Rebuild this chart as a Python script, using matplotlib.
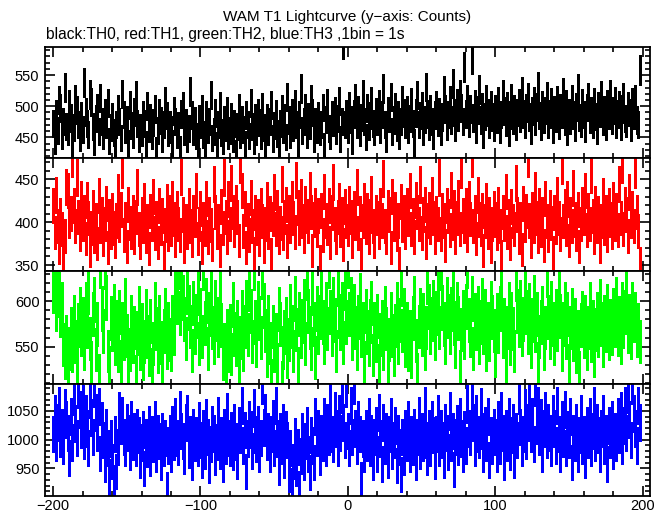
import matplotlib
matplotlib.use('Agg')
import matplotlib.pyplot as plt
import numpy as np
from matplotlib.ticker import MultipleLocator

plt.rcParams['font.family'] = ['Liberation Sans', 'DejaVu Sans']

# 1 s bins, roughly -200 .. 198 s
time_s = np.arange(-200, 199)

th0 = [472, 445, 488, 461, 510, 497, 452, 476, 530, 468, 459, 503, 481, 437, 466, 512, 494, 470, 449, 485,
       463, 538, 491, 472, 455, 519, 507, 468, 443, 480, 498, 460, 513, 476, 452, 489, 471, 505, 444, 466,
       483, 458, 431, 470, 496, 475, 449, 520, 487, 462, 478, 441, 502, 469, 455, 491, 517, 473, 448, 466,
       458, 487, 472, 439, 501, 465, 482, 452, 474, 496, 430, 461, 489, 477, 447, 470, 508, 485, 458, 471,
       463, 441, 492, 476, 455, 469, 432, 488, 501, 459, 474, 447, 465, 524, 486, 460, 477, 452, 439, 480,
       470, 495, 455, 442, 486, 463, 476, 518, 449, 460, 489, 437, 471, 501, 458, 444, 478, 466, 493, 452,
       461, 483, 448, 472, 426, 467, 497, 455, 479, 463, 440, 486, 471, 452, 505, 468, 445, 481, 460, 490,
       474, 453, 499, 466, 437, 482, 459, 475, 502, 448, 469, 488, 456, 429, 472, 495, 463, 481, 451, 515,
       478, 455, 490, 466, 503, 471, 442, 487, 529, 461, 476, 498, 454, 483, 469, 512, 490, 447, 475, 463,
       485, 459, 471, 498, 436, 479, 505, 465, 452, 487, 474, 493, 461, 480, 509, 447, 476, 600, 470, 488,
       462, 501, 479, 445, 488, 513, 470, 494, 458, 482, 520, 476, 451, 497, 467, 485, 508, 472, 459, 491,
       476, 504, 463, 487, 529, 470, 448, 493, 481, 515, 460, 478, 499, 466, 487, 452, 476, 510, 489, 471,
       494, 463, 480, 507, 473, 442, 489, 518, 471, 485, 500, 460, 479, 531, 488, 467, 495, 476, 453, 486,
       502, 474, 491, 459, 483, 526, 495, 468, 487, 510, 478, 536, 490, 466, 505, 482, 520, 497, 475, 563,
       488, 512, 473, 496, 575, 481, 503, 462, 494, 527, 478, 499, 455, 484, 511, 490, 470, 502, 483, 466,
       495, 479, 508, 463, 487, 519, 492, 474, 501, 457, 486, 513, 478, 496, 467, 490, 505, 481, 524, 488,
       470, 497, 514, 483, 461, 492, 508, 476, 499, 532, 485, 468, 502, 479, 493, 516, 471, 488, 506, 463,
       494, 481, 510, 469, 497, 487, 522, 475, 503, 459, 490, 478, 512, 486, 466, 499, 528, 482, 473, 505,
       487, 465, 498, 515, 479, 492, 470, 506, 484, 461, 500, 489, 517, 475, 494, 468, 503, 486, 520, 477,
       493, 509, 471, 488, 502, 467, 496, 514, 480, 473, 501, 490, 466, 507, 485, 512, 478, 470, 558]

th1 = [420, 388, 432, 395, 371, 408, 392, 356, 384, 441, 437, 402, 410, 474, 419, 395, 452, 406, 386, 428,
       398, 412, 381, 426, 405, 367, 393, 417, 384, 402, 375, 431, 396, 409, 380, 398, 422, 371, 407, 389,
       414, 393, 378, 402, 436, 397, 415, 462, 385, 404, 372, 421, 399, 388, 411, 382, 406, 441, 392, 377,
       409, 396, 425, 384, 401, 369, 413, 398, 430, 387, 405, 376, 419, 393, 408, 359, 397, 424, 386, 411,
       392, 427, 404, 379, 416, 398, 385, 453, 409, 372, 401, 388, 420, 395, 379, 412, 403, 437, 381, 398,
       416, 371, 404, 392, 428, 383, 409, 397, 374, 445, 412, 389, 401, 367, 418, 393, 452, 406, 383, 427,
       398, 446, 412, 391, 423, 406, 379, 468, 437, 390, 416, 371, 402, 385, 429, 396, 364, 411, 393, 407,
       380, 419, 401, 372, 398, 426, 388, 410, 363, 404, 435, 392, 417, 383, 399, 445, 387, 406, 421, 378,
       412, 396, 428, 405, 389, 449, 417, 393, 430, 401, 384, 422, 407, 395, 438, 412, 367, 403, 420, 391,
       408, 354, 414, 385, 436, 402, 393, 419, 376, 411, 447, 398, 382, 406, 425, 391, 409, 374, 418, 401,
       392, 422, 406, 378, 416, 399, 441, 387, 410, 363, 401, 425, 394, 414, 382, 407, 433, 395, 378, 412,
       405, 389, 420, 402, 451, 396, 383, 417, 409, 371, 430, 398, 415, 386, 402, 352, 424, 397, 411, 388,
       419, 404, 437, 392, 408, 383, 426, 412, 398, 444, 387, 409, 421, 376, 402, 415, 394, 432, 405, 382,
       410, 398, 452, 386, 414, 402, 373, 420, 407, 391, 438, 399, 417, 383, 405, 429, 392, 461, 408, 396,
       419, 385, 427, 404, 475, 396, 412, 381, 432, 403, 392, 414, 367, 401, 425, 388, 409, 372, 398, 416,
       403, 387, 421, 395, 360, 412, 398, 436, 389, 407, 375, 418, 401, 392, 446, 409, 383, 404, 368, 422,
       397, 413, 475, 402, 378, 415, 396, 438, 405, 384, 420, 391, 409, 373, 428, 401, 385, 417, 399, 365,
       411, 394, 432, 405, 386, 466, 401, 418, 392, 427, 379, 409, 396, 440, 403, 386, 415, 372, 398, 421,
       405, 437, 391, 414, 398, 456, 407, 383, 422, 396, 410, 372, 401, 431, 393, 412, 385, 419, 403, 388,
       426, 398, 414, 391, 445, 405, 467, 392, 421, 409, 384, 435, 401, 416, 396, 462, 412, 390, 352]

th2 = [612, 640, 591, 623, 607, 585, 597, 552, 538, 561, 521, 548, 570, 545, 583, 556, 529, 574, 591, 563,
       580, 548, 597, 572, 611, 559, 533, 586, 602, 547, 575, 519, 640, 592, 567, 638, 604, 545, 528, 581,
       569, 594, 553, 577, 546, 588, 534, 575, 559, 601, 562, 529, 547, 583, 556, 571, 518, 565, 592, 548,
       574, 537, 556, 589, 561, 541, 578, 526, 553, 597, 570, 544, 582, 555, 531, 567, 590, 549, 575, 558,
       547, 583, 565, 612, 599, 638, 587, 621, 604, 580, 559, 611, 593, 572, 546, 598, 566, 584, 609, 553,
       590, 561, 637, 576, 601, 548, 586, 616, 571, 555, 599, 580, 562, 611, 574, 536, 552, 527, 568, 545,
       573, 542, 596, 564, 552, 577, 529, 560, 588, 547, 572, 599, 563, 614, 589, 556, 637, 577, 551, 598,
       581, 560, 627, 595, 568, 540, 583, 554, 514, 572, 546, 563, 531, 591, 575, 512, 549, 566, 580, 539,
       558, 594, 572, 545, 603, 569, 527, 586, 561, 578, 600, 553, 626, 589, 571, 548, 609, 575, 538, 592,
       566, 583, 611, 577, 554, 596, 570, 640, 588, 563, 602, 579, 545, 619, 584, 570, 596, 555, 615, 577,
       640, 586, 602, 559, 594, 571, 548, 583, 606, 562, 575, 533, 589, 566, 552, 578, 598, 541, 575, 557,
       584, 530, 563, 577, 548, 592, 570, 524, 558, 586, 562, 541, 573, 597, 555, 579, 620, 568, 590, 551,
       575, 547, 566, 539, 581, 603, 557, 520, 572, 590, 563, 585, 548, 571, 622, 594, 566, 580, 599, 559,
       587, 608, 571, 637, 593, 575, 555, 602, 584, 566, 591, 613, 576, 550, 597, 581, 523, 569, 588, 560,
       594, 640, 579, 562, 603, 548, 585, 570, 592, 554, 577, 601, 566, 589, 547, 575, 558, 598, 582, 568,
       540, 585, 567, 592, 610, 561, 579, 533, 571, 597, 553, 586, 570, 545, 625, 589, 574, 599, 563, 580,
       616, 588, 566, 595, 550, 579, 604, 568, 586, 532, 561, 577, 592, 548, 571, 630, 583, 560, 598, 575,
       553, 589, 569, 612, 584, 547, 575, 596, 560, 586, 530, 571, 590, 558, 579, 544, 566, 522, 574, 587,
       561, 583, 548, 571, 596, 557, 577, 540, 569, 586, 562, 600, 575, 551, 583, 568, 594, 559, 578, 565,
       590, 574, 602, 563, 581, 555, 597, 572, 588, 608, 567, 584, 560, 596, 579, 586, 562, 574, 556]

th3 = [1010, 1045, 995, 1030, 1060, 1002, 1022, 990, 1055, 1035, 1012, 968, 1040, 995, 1075, 1028, 1003, 1088, 1052, 1017,
       1062, 998, 1045, 1020, 985, 1071, 1038, 1005, 1090, 1047, 1012, 1058, 976, 1034, 999, 958, 1022, 985, 935, 1002,
       962, 925, 1010, 945, 988, 1050, 1024, 1042, 1005, 985, 1030, 1012, 978, 1036, 997, 1015, 985, 1022, 1008, 965,
       995, 1018, 950, 1004, 983, 1027, 968, 1009, 992, 1035, 975, 1011, 998, 960, 1015, 985, 1003, 914, 990, 1012,
       975, 1027, 996, 1040, 1003, 988, 1052, 1015, 998, 972, 1030, 1045, 982, 1010, 960, 1022, 995, 1008, 985, 1033,
       1000, 964, 1019, 980, 1038, 1005, 955, 992, 1026, 1011, 970, 996, 1042, 981, 1007, 957, 1021, 989, 1049, 1003,
       985, 1016, 978, 1030, 997, 962, 1025, 1008, 1060, 990, 1017, 945, 1002, 1035, 1018, 980, 1055, 1009, 992, 1026,
       975, 1003, 1095, 1021, 1048, 996, 1015, 975, 1010, 1037, 985, 1060, 1002, 952, 1015, 990, 1030, 965, 1018, 1000,
       940, 985, 920, 962, 1006, 950, 988, 915, 972, 1015, 960, 998, 1025, 975, 943, 1008, 990, 960, 1040, 1003,
       1020, 970, 1012, 995, 1040, 985, 1030, 1005, 1065, 1010, 992, 1050, 1020, 985, 1045, 1012, 1080, 1030, 1000, 1090,
       1015, 985, 1060, 1005, 1095, 1020, 990, 1035, 1010, 930, 1002, 975, 1020, 995, 1040, 985, 1012, 960, 1005, 1025,
       975, 1048, 1002, 958, 1030, 990, 1015, 965, 1010, 1040, 980, 1000, 1025, 955, 1012, 988, 940, 1005, 970, 1020,
       995, 1035, 975, 1010, 988, 1022, 960, 1005, 1042, 980, 1015, 995, 1060, 1000, 970, 1020, 985, 1035, 1008, 962,
       1010, 1045, 985, 1020, 1000, 965, 1030, 1012, 978, 1050, 995, 1015, 948, 1005, 1028, 988, 1040, 1002, 975, 1018,
       990, 1062, 1020, 1005, 1070, 1030, 985, 1045, 1010, 1000, 1058, 1015, 975, 1025, 995, 1040, 965, 1008, 990, 1022,
       1005, 975, 1035, 990, 1050, 1012, 960, 1020, 995, 1040, 978, 1008, 1030, 965, 1015, 1000, 1078, 1022, 985, 1010,
       1055, 998, 1030, 1075, 1010, 1040, 992, 1092, 1025, 1060, 1005, 1038, 975, 1020, 1050, 1000, 1030, 1012, 985, 1045,
       1020, 990, 1060, 1010, 975, 1035, 1002, 1052, 985, 1018, 1000, 1040, 960, 1012, 995, 1030, 975, 1008, 1045, 990,
       1010, 965, 1025, 1000, 1040, 985, 1015, 1060, 995, 1030, 1008, 975, 1020, 1045, 990, 1012, 958, 1025, 1000, 1035,
       980, 1015, 995, 1040, 1008, 1050, 990, 1025, 1060, 1012, 1080, 1035, 1000, 1095, 1045, 1020, 990, 1060, 1030]

series = [th0, th1, th2, th3]
colors = ["black", "#ff0000", "#00ff00", "#0000ff"]
ylims = [(417, 595), (343, 475), (509, 633), (902, 1097)]
xticks = [-200, -100, 0, 100, 200]

W, H = 669, 515
fig = plt.figure(figsize=(W / 100, H / 100), dpi=100)

# panel edges in pixels (top to bottom)
edges = [47, 158, 271, 384, 496]
left, right = 45, 650

axes = []
for i in range(4):
    top, bot = edges[i], edges[i + 1]
    ax = fig.add_axes([left / W, 1 - bot / H, (right - left) / W, (bot - top) / H])
    counts = np.array(series[i], dtype=float)
    # QDP-style: half-bin x error, Poisson y error
    eb = ax.errorbar(time_s, counts, xerr=0.5, yerr=np.sqrt(counts), fmt="none",
                     ecolor=colors[i], elinewidth=0.85, capsize=0)
    for c in eb.lines[2]:
        c.set_antialiased(False)
    ax.set_xlim(-205.5, 205)
    ax.set_ylim(*ylims[i])
    ax.xaxis.set_major_locator(MultipleLocator(100))
    ax.xaxis.set_minor_locator(MultipleLocator(20))
    ax.yaxis.set_major_locator(MultipleLocator(50))
    ax.yaxis.set_minor_locator(MultipleLocator(10))
    ax.tick_params(which="both", direction="in", top=True, right=True, width=1.2,
                   labelsize=10.5, colors="black")
    ax.tick_params(which="major", length=7)
    ax.tick_params(which="minor", length=3.5)
    ax.tick_params(axis="y", pad=4)
    for s in ax.spines.values():
        s.set_linewidth(1.3)
    if i < 3:
        ax.tick_params(labelbottom=False)
    else:
        ax.set_xticks(xticks)
        ax.set_xticklabels([str(v).replace("-", "\u2212") for v in xticks])
        ax.tick_params(axis="x", pad=2)
    axes.append(ax)

fig.text(347.5 / W, 1 - 17 / H, "WAM T1 Lightcurve (y\u2212axis: Counts)",
         ha="center", va="center", fontsize=11)
fig.text(46 / W, 1 - 35 / H, "black:TH0, red:TH1, green:TH2, blue:TH3 ,1bin = 1s",
         ha="left", va="center", fontsize=11.2)

fig.savefig("out.png", dpi=100)
